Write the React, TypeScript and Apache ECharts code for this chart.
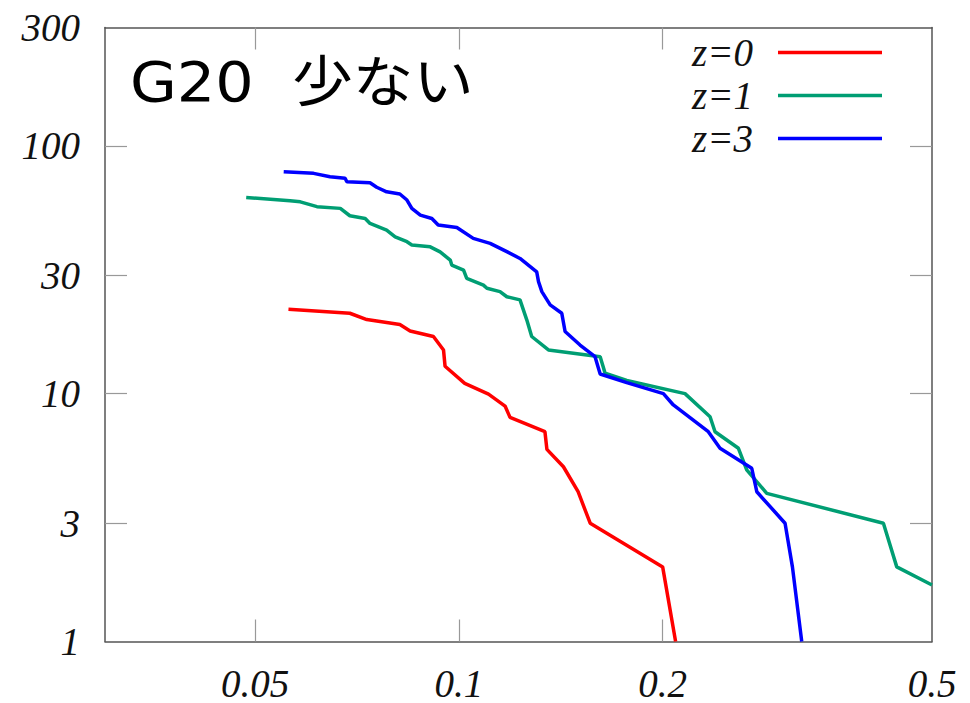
import React, { useEffect, useRef } from "react";
import * as echarts from "echarts";

// Curve data: x (log scale) against y (log scale) for each z
const seriesNames = ["z=0", "z=1", "z=3"];
const seriesColors = ["#ff0000", "#009e73", "#0000ff"];

const z0X = [0.056, 0.069, 0.0731, 0.0818, 0.0847, 0.0917, 0.0949, 0.0954, 0.102, 0.1106, 0.117, 0.119, 0.134, 0.1349, 0.1427, 0.150, 0.1563, 0.2, 0.209];
const z0Y = [21.9, 21.1, 19.9, 19.0, 17.9, 17.0, 15.0, 12.9, 11.0, 9.96, 8.91, 8.02, 7.02, 5.96, 5.07, 4.02, 3.0, 2.0, 1.0];

const z1X = [0.0485, 0.0563, 0.0583, 0.0617, 0.0668, 0.069, 0.0727, 0.0739, 0.0782, 0.0805, 0.0838, 0.0852, 0.0907, 0.0938, 0.0971, 0.0976, 0.1016, 0.1027, 0.1087, 0.110, 0.115, 0.1177, 0.1231, 0.126, 0.1281, 0.1356, 0.1617, 0.1644, 0.177, 0.2158, 0.235, 0.239, 0.2588, 0.2662, 0.285, 0.4238, 0.4435, 0.5];
const z1Y = [61.9, 60.0, 59.4, 56.8, 55.9, 52.2, 50.9, 48.6, 45.7, 42.9, 41.0, 39.8, 39.1, 37.3, 34.6, 33.0, 31.5, 29.2, 27.4, 26.6, 25.8, 24.6, 23.9, 19.8, 17.0, 15.0, 14.1, 12.1, 11.3, 10.0, 8.07, 7.02, 6.02, 4.92, 3.96, 3.0, 2.0, 1.69];

const z3X = [0.0551, 0.061, 0.0645, 0.0679, 0.0683, 0.0739, 0.0756, 0.0782, 0.0818, 0.0838, 0.0852, 0.0877, 0.0912, 0.0932, 0.0993, 0.105, 0.1112, 0.1177, 0.1231, 0.1303, 0.1311, 0.1326, 0.1364, 0.1419, 0.1435, 0.151, 0.1589, 0.1617, 0.177, 0.2005, 0.2074, 0.2336, 0.2431, 0.2708, 0.2755, 0.3033, 0.311, 0.321];
const z3Y = [78.6, 77.4, 75.0, 73.9, 71.6, 70.9, 68.0, 65.2, 63.9, 60.4, 55.9, 52.5, 50.9, 47.9, 46.8, 42.3, 40.4, 37.4, 35.1, 31.0, 28.3, 25.8, 22.8, 21.1, 17.8, 15.7, 14.1, 12.0, 11.07, 10.0, 9.0, 7.02, 6.02, 5.0, 4.02, 3.0, 2.0, 1.0];

const seriesX = [z0X, z1X, z3X];
const seriesY = [z0Y, z1Y, z3Y];

// Axis ranges and tick labels
const xMin = 0.03;
const xMax = 0.5;
const yMin = 1;
const yMax = 300;
const xLabelValues = [0.05, 0.1, 0.2, 0.5];
const xTickValues = [0.05, 0.1, 0.2];
const yLabelValues = [1, 3, 10, 30, 100, 300];
const yTickValues = [3, 10, 30, 100];

const titleText = "G20  少ない";

const labelFont = {
  fontFamily: '"Liberation Serif", "DejaVu Serif", serif',
  fontStyle: "italic" as const,
  fontSize: 39,
  color: "#111",
};

const frameLine = { show: true, onZero: false, lineStyle: { color: "#555", width: 1.5 } };
const tickStyle = { color: "#999", width: 1.2 };

export default function App() {
  const ref = useRef<HTMLDivElement>(null);

  useEffect(() => {
    if (!ref.current) return;
    const chart = echarts.init(ref.current, null, { renderer: "svg" });

    const xAxisBase = {
      type: "log" as const,
      logBase: 10,
      min: xMin,
      max: xMax,
      axisLine: frameLine,
      splitLine: { show: false },
      minorTick: { show: false },
      minorSplitLine: { show: false },
    };
    const yAxisBase = {
      type: "log" as const,
      logBase: 10,
      min: yMin,
      max: yMax,
      axisLine: frameLine,
      splitLine: { show: false },
      minorTick: { show: false },
      minorSplitLine: { show: false },
    };

    chart.setOption({
      animation: false,
      backgroundColor: "#ffffff",
      grid: { left: 105, top: 27.5, right: 38, bottom: 61.5, containLabel: false },
      xAxis: [
        {
          ...xAxisBase,
          position: "bottom",
          axisTick: { show: true, inside: true, length: 22, customValues: xTickValues, lineStyle: tickStyle },
          axisLabel: {
            ...labelFont,
            customValues: xLabelValues,
            margin: 22,
            formatter: (v: number) => String(v),
          },
        },
        {
          ...xAxisBase,
          position: "top",
          axisTick: { show: true, inside: true, length: 22, customValues: xTickValues, lineStyle: tickStyle },
          axisLabel: { show: false },
        },
      ],
      yAxis: [
        {
          ...yAxisBase,
          position: "left",
          axisTick: { show: true, inside: true, length: 22, customValues: yTickValues, lineStyle: tickStyle },
          axisLabel: {
            ...labelFont,
            customValues: yLabelValues,
            margin: 25,
            formatter: (v: number) => String(v),
          },
        },
        {
          ...yAxisBase,
          position: "right",
          axisTick: { show: true, inside: true, length: 22, customValues: yTickValues, lineStyle: tickStyle },
          axisLabel: { show: false },
        },
      ],
      legend: {
        data: seriesNames,
        orient: "vertical",
        align: "right",
        right: 88,
        top: 33,
        padding: 0,
        icon: "rect",
        itemWidth: 104,
        itemHeight: 3.5,
        itemGap: 4,
        textStyle: { ...labelFont, lineHeight: 38, padding: [0, 20, 0, 0] },
      },
      graphic: [
        {
          type: "text",
          x: 130,
          y: 82,
          scaleX: 1.1,
          style: {
            text: titleText,
            fontFamily: '"DejaVu Sans", "Noto Sans CJK JP", sans-serif',
            fontSize: 55,
            fill: "#000",
            verticalAlign: "middle",
            align: "left",
          },
        },
      ],
      series: seriesNames.map((name, i) => ({
        name,
        type: "line",
        xAxisIndex: 0,
        yAxisIndex: 0,
        symbol: "none",
        showSymbol: false,
        clip: true,
        color: seriesColors[i],
        lineStyle: { color: seriesColors[i], width: 3.5 },
        data: seriesX[i].map((x, j) => [x, seriesY[i][j]]),
      })),
    });

    return () => chart.dispose();
  }, []);

  return (
    <div
      ref={ref}
      style={{ position: "fixed", left: 0, top: 0, width: 970, height: 703 }}
    />
  );
}
